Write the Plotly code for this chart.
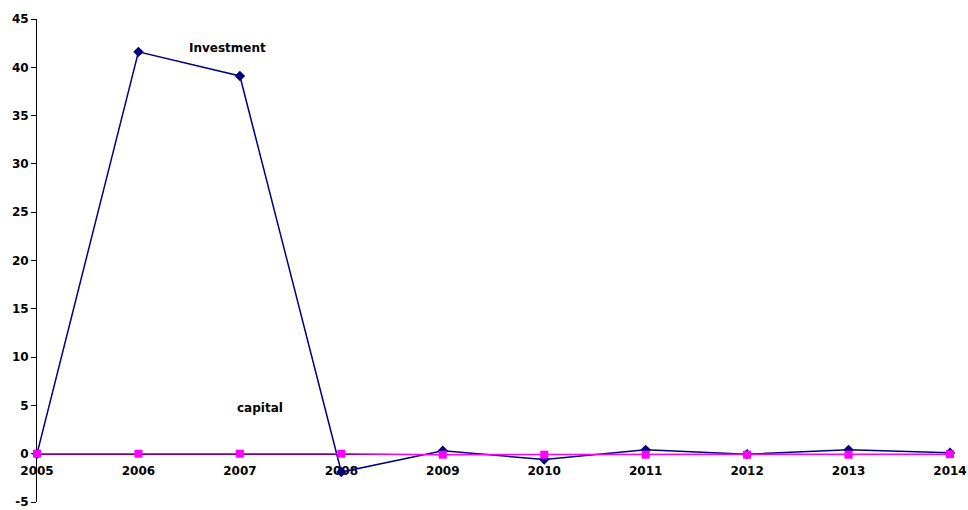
import plotly.graph_objects as go

years = [2005, 2006, 2007, 2008, 2009, 2010, 2011, 2012, 2013, 2014]
investment = [0.0, 41.6, 39.1, -1.9, 0.3, -0.6, 0.4, -0.05, 0.4, 0.1]
capital = [0.0, 0.0, 0.0, 0.0, -0.1, -0.1, -0.1, -0.1, -0.1, -0.05]
y_ticks = [-5, 0, 5, 10, 15, 20, 25, 30, 35, 40, 45]

font_family = "DejaVu Sans"

fig = go.Figure()
fig.add_trace(go.Scatter(
    x=years, y=investment, mode="lines+markers", name="Investment",
    line=dict(color="#000080", width=1.5),
    marker=dict(symbol="diamond", size=8, color="#000080"),
    cliponaxis=False,
))
fig.add_trace(go.Scatter(
    x=years, y=capital, mode="lines+markers", name="capital",
    line=dict(color="#FF00FF", width=1.5),
    marker=dict(symbol="square", size=8, color="#FF00FF"),
    cliponaxis=False,
))

fig.add_annotation(x=2006.88, y=42.0, text="<b>Investment</b>", showarrow=False,
                   font=dict(family=font_family, size=12, color="black"))
fig.add_annotation(x=2007.2, y=4.75, text="<b>capital</b>", showarrow=False,
                   font=dict(family=font_family, size=12, color="black"))

fig.update_layout(
    width=968, height=510,
    margin=dict(l=37, r=18, t=19, b=8),
    paper_bgcolor="white", plot_bgcolor="white",
    showlegend=False,
    font=dict(family=font_family, size=12, color="black"),
    xaxis=dict(
        range=[2005, 2014], tickvals=years,
        ticktext=["<b>%d</b>" % y for y in years],
        anchor="free", position=0.1, automargin=False,
        showline=True, linecolor="black", linewidth=1,
        showgrid=False, zeroline=False, layer="below traces",
        ticks="outside", ticklen=6, tickcolor="rgba(0,0,0,0)",
        tickfont=dict(family=font_family, size=12, color="black"),
    ),
    yaxis=dict(
        range=[-5, 45], tickvals=y_ticks,
        ticktext=["<b>%d</b>" % v for v in y_ticks],
        automargin=False,
        showline=True, linecolor="black", linewidth=1,
        showgrid=False, zeroline=False, layer="below traces",
        ticks="outside", ticklen=5, tickcolor="black",
        tickfont=dict(family=font_family, size=12, color="black"),
    ),
)

fig.write_html("out.html", config={"displayModeBar": False},
               post_script="document.body.style.margin='0';")
